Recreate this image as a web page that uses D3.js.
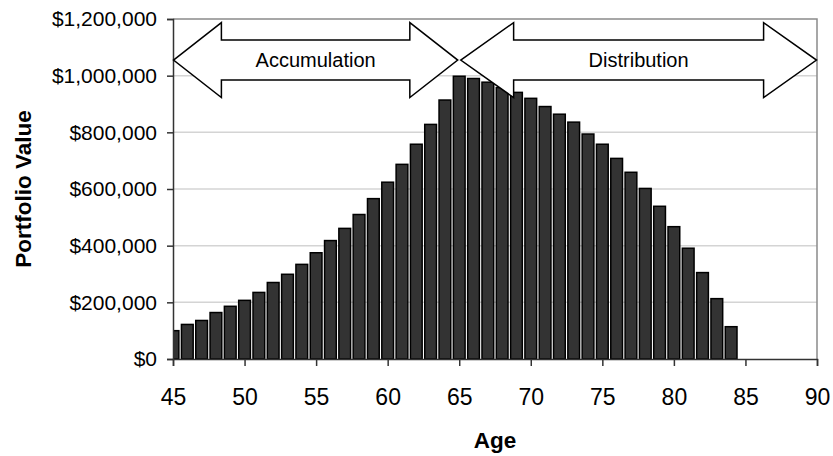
<!DOCTYPE html>
<html>
<head>
<meta charset="utf-8">
<script src="https://cdn.jsdelivr.net/npm/d3@7"></script>
<style>
  body { margin: 0; background: #fff; }
  svg { display: block; font-family: "Liberation Sans", Arial, sans-serif; }
</style>
</head>
<body>
<svg id="chart" width="833" height="456"></svg>
<script>
// Portfolio value at each age
const ages = [45, 46, 47, 48, 49, 50, 51, 52, 53, 54,
              55, 56, 57, 58, 59, 60, 61, 62, 63, 64,
              65, 66, 67, 68, 69, 70, 71, 72, 73, 74,
              75, 76, 77, 78, 79, 80, 81, 82, 83, 84];
const portfolioValues = [100000, 122000, 136000, 164000, 186000, 207000, 235000, 270000, 299000, 334000,
                         375000, 418000, 461000, 510000, 566000, 624000, 687000, 758000, 828000, 914000,
                         998000, 990000, 977000, 958000, 941000, 920000, 891000, 864000, 836000, 794000,
                         758000, 708000, 659000, 602000, 539000, 467000, 391000, 305000, 213000, 114000];
const yTickValues = [0, 200000, 400000, 600000, 800000, 1000000, 1200000];
const xTickValues = [45, 50, 55, 60, 65, 70, 75, 80, 85, 90];

// Life phases shown as double-headed arrows
const phaseNames = ["Accumulation", "Distribution"];
const phaseStartAges = [45, 65];
const phaseEndAges = [65, 90];
const phaseLevel = 1055000;

const width = 833, height = 456;
const margin = { top: 19, right: 16, bottom: 97, left: 173 };
const innerW = width - margin.left - margin.right;
const innerH = height - margin.top - margin.bottom;

const svg = d3.select("#chart");
const g = svg.append("g").attr("transform", `translate(${margin.left},${margin.top})`);

const x = d3.scaleLinear().domain([45, 90]).range([0, innerW]);
const y = d3.scaleLinear().domain([0, 1200000]).range([innerH, 0]);

// gridlines
g.append("g")
  .selectAll("line")
  .data(yTickValues.filter(v => v > 0 && v < 1200000))
  .join("line")
  .attr("x1", 0).attr("x2", innerW)
  .attr("y1", d => y(d)).attr("y2", d => y(d))
  .attr("stroke", "#d4d4d4").attr("stroke-width", 1.5);

// plot-area border (top and right)
g.append("path")
  .attr("d", `M0,${y(1200000)}H${innerW}V${innerH}`)
  .attr("fill", "none").attr("stroke", "#8a8a8a").attr("stroke-width", 1.5);

// bars, clipped to the plot area
svg.append("defs").append("clipPath").attr("id", "plot-clip")
  .append("rect").attr("x", 0).attr("y", -2).attr("width", innerW).attr("height", innerH + 2);

const step = x(46) - x(45);
const barW = step * 0.82;
g.append("g").attr("clip-path", "url(#plot-clip)")
  .selectAll("rect")
  .data(ages.map((a, i) => ({ age: a, value: portfolioValues[i] })))
  .join("rect")
  .attr("x", d => x(d.age) - barW / 2)
  .attr("width", barW)
  .attr("y", d => y(d.value))
  .attr("height", d => innerH - y(d.value))
  .attr("fill", "#333333")
  .attr("stroke", "#000").attr("stroke-width", 1.5);

// axes
const yAxis = d3.axisLeft(y).tickValues(yTickValues).tickSize(6).tickPadding(10)
  .tickFormat(d3.format("$,"));
const yG = g.append("g").call(yAxis);
yG.select(".domain").attr("stroke", "#333").attr("stroke-width", 1.5);
yG.selectAll(".tick line").attr("stroke", "#333").attr("stroke-width", 1.5);
yG.selectAll("text").attr("font-size", 21).attr("fill", "#000")
  .attr("font-family", "'Liberation Sans', Arial, sans-serif");

const xAxis = d3.axisBottom(x).tickValues(xTickValues).tickSize(7).tickPadding(23)
  .tickFormat(d3.format("d"));
const xG = g.append("g").attr("transform", `translate(0,${innerH})`).call(xAxis);
xG.select(".domain").attr("stroke", "#333").attr("stroke-width", 1.5);
xG.selectAll(".tick line").attr("stroke", "#333").attr("stroke-width", 1.5);
xG.selectAll("text").attr("font-size", 23).attr("fill", "#000")
  .attr("font-family", "'Liberation Sans', Arial, sans-serif");

// axis titles
svg.append("text")
  .attr("x", margin.left + innerW / 2).attr("y", 448)
  .attr("text-anchor", "middle")
  .attr("font-size", 22.5).attr("font-weight", "bold")
  .text("Age");

svg.append("text")
  .attr("transform", `translate(31,${margin.top + innerH / 2}) rotate(-90)`)
  .attr("text-anchor", "middle")
  .attr("font-size", 22.5).attr("font-weight", "bold")
  .text("Portfolio Value");

// phase arrows
const headHalf = 37.5, shaftHalf = 20;
phaseNames.forEach((name, i) => {
  const x0 = x(phaseStartAges[i]) + (phaseStartAges[i] === 45 ? 0.5 : 1.5);
  const x1 = x(phaseEndAges[i]) - (phaseEndAges[i] === 90 ? 0.5 : 1.5);
  const len = x1 - x0;
  const head = 28 + 0.07 * len;
  const cy = y(phaseLevel);
  const pts = [
    [x0, cy],
    [x0 + head, cy - headHalf],
    [x0 + head, cy - shaftHalf],
    [x1 - head, cy - shaftHalf],
    [x1 - head, cy - headHalf],
    [x1, cy],
    [x1 - head, cy + headHalf],
    [x1 - head, cy + shaftHalf],
    [x0 + head, cy + shaftHalf],
    [x0 + head, cy + headHalf]
  ];
  g.append("path")
    .attr("d", "M" + pts.map(p => p.join(",")).join("L") + "Z")
    .attr("fill", "#fff").attr("stroke", "#000").attr("stroke-width", 1.5)
    .attr("stroke-linejoin", "miter");
  g.append("text")
    .attr("x", (x0 + x1) / 2).attr("y", cy)
    .attr("dy", "0.35em")
    .attr("text-anchor", "middle")
    .attr("font-size", 20)
    .text(name);
});
</script>
</body>
</html>
